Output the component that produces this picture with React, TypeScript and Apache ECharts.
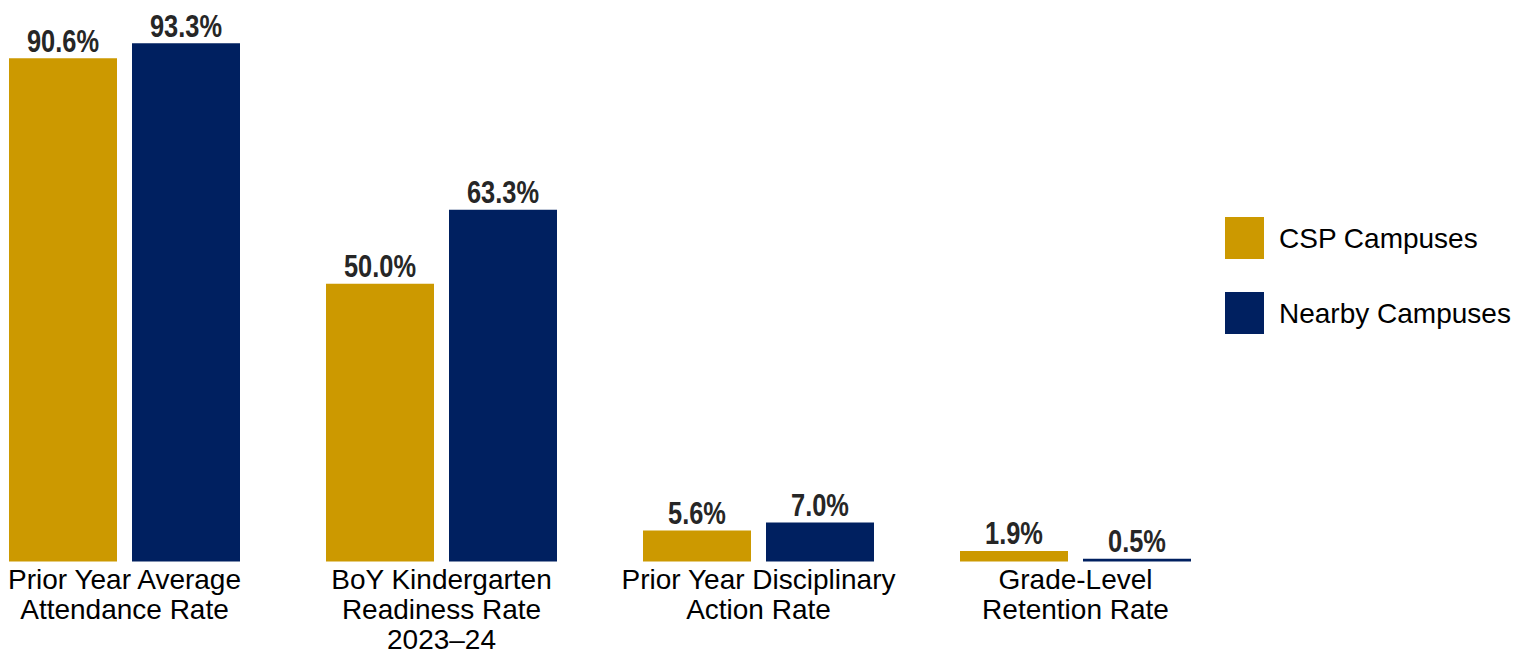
import React, { useEffect, useRef } from "react";
import * as echarts from "echarts";

const categories = [
  "Prior Year Average\nAttendance Rate",
  "BoY Kindergarten\nReadiness Rate\n2023–24",
  "Prior Year Disciplinary\nAction Rate",
  "Grade-Level\nRetention Rate",
];
const seriesNames = ["CSP Campuses", "Nearby Campuses"];
const cspValues = [90.6, 50.0, 5.6, 1.9];
const nearbyValues = [93.3, 63.3, 7.0, 0.5];

const GOLD = "#CC9900";
const NAVY = "#002060";
const BAR_W = 108;
const BAR_GAP = 15;

function labelSeries(name: string, values: number[], side: number) {
  return {
    name,
    type: "custom",
    coordinateSystem: "cartesian2d",
    silent: true,
    z: 5,
    data: values.map((v, i) => [i, v]),
    encode: { x: 0, y: 1 },
    renderItem: (params: any, api: any) => {
      const p = api.coord([api.value(0), api.value(1)]);
      const offset = side * (BAR_W + BAR_GAP) / 2;
      return {
        type: "text",
        x: p[0] + offset,
        y: p[1] - 2,
        scaleX: 0.82,
        style: {
          text: `${Number(api.value(1)).toFixed(1)}%`,
          x: 0,
          y: 0,
          align: "center",
          verticalAlign: "bottom",
          font: "bold 31px 'Liberation Sans', Arial, sans-serif",
          fill: "#262626",
        },
      };
    },
  };
}

export default function App() {
  const ref = useRef<HTMLDivElement>(null);
  useEffect(() => {
    if (!ref.current) return;
    const chart = echarts.init(ref.current, undefined, { renderer: "svg" });
    chart.setOption({
      animation: false,
      backgroundColor: "#ffffff",
      grid: {
        left: -34,
        width: 1268,
        top: 6,
        height: 555.5,
        containLabel: false,
        outerBoundsMode: "none",
      },
      xAxis: {
        type: "category",
        data: categories,
        axisLine: { show: false },
        axisTick: { show: false },
        axisLabel: {
          interval: 0,
          margin: 3,
          fontFamily: "'Liberation Sans', Arial, sans-serif",
          fontSize: 28,
          lineHeight: 30,
          color: "#000000",
        },
      },
      yAxis: {
        type: "value",
        min: 0,
        max: 100,
        show: false,
        splitLine: { show: false },
      },
      legend: {
        orient: "vertical",
        left: 1225,
        top: 217,
        padding: 0,
        itemWidth: 39,
        itemHeight: 42,
        itemGap: 33,
        icon: "rect",
        data: seriesNames,
        textStyle: {
          fontFamily: "'Liberation Sans', Arial, sans-serif",
          fontSize: 28,
          color: "#000000",
          padding: [0, 0, 0, 10],
        },
      },
      series: [
        {
          name: seriesNames[0],
          type: "bar",
          data: cspValues,
          barWidth: BAR_W,
          barGap: `${(BAR_GAP / BAR_W) * 100}%`,
          itemStyle: { color: GOLD },
        },
        {
          name: seriesNames[1],
          type: "bar",
          data: nearbyValues,
          barWidth: BAR_W,
          barGap: `${(BAR_GAP / BAR_W) * 100}%`,
          itemStyle: { color: NAVY },
        },
        labelSeries("CSP labels", cspValues, -1),
        labelSeries("Nearby labels", nearbyValues, 1),
      ],
    });
    return () => chart.dispose();
  }, []);
  return (
    <div
      ref={ref}
      style={{ position: "fixed", left: 0, top: 0, width: 1530, height: 656, background: "#fff" }}
    />
  );
}
